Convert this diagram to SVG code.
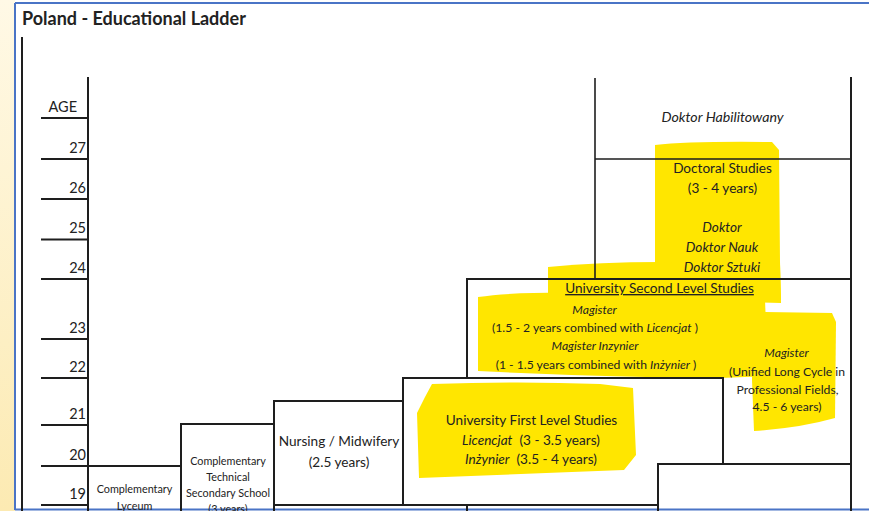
<svg xmlns="http://www.w3.org/2000/svg" width="869" height="511" viewBox="0 0 869 511">
<defs>
<linearGradient id="cream" x1="0" y1="0" x2="0" y2="1">
<stop offset="0" stop-color="#FFF9E6"/>
<stop offset="1" stop-color="#FCEAB2"/>
</linearGradient>
</defs>
<style>
.ln{stroke:#1e1e1e;stroke-width:2;fill:none;stroke-linecap:square}
.thin{stroke:#1e1e1e;stroke-width:1.6;fill:none}
.hl{fill:#FFE600}
text{font-family:Lato,"Liberation Sans",sans-serif;fill:#222}
.age{font-size:14.5px;text-anchor:end}
.c{text-anchor:middle}
.i{font-style:italic}
.s{font-size:13.6px}
.xs{font-size:12.2px}
.xxs{font-size:10.8px}
</style>
<rect x="0" y="0" width="869" height="511" fill="#fff"/>
<rect x="0" y="0" width="15" height="511" fill="url(#cream)"/>
<g id="frame" stroke="#4A74C6" stroke-width="2" fill="none">
<line x1="15" y1="3" x2="869" y2="3"/>
<line x1="15" y1="3" x2="15" y2="510"/>
<line x1="15" y1="509.5" x2="869" y2="509.5"/>
</g>
<text x="22" y="25" font-weight="bold" font-size="18">Poland - Educational Ladder</text>

<g id="highlights">
<path class="hl" d="M655,145 Q690,141 772,142 L779,150 L780,262 L781,300 L700,300 L655,290 Z"/>
<path class="hl" d="M548,267 Q600,262 660,262 L780,264 L781,303 L548,296 Z"/>
<path class="hl" d="M478,297 Q520,291 600,293 L765,300 L768,376 L720,378 Q600,377 478,371 Z"/>
<path class="hl" d="M752,315 L765,312 L832,313 L836,322 L835,418 Q800,428 754,431 L752,380 Z"/>
<path class="hl" d="M432,384 Q520,381 600,384 L633,388 L636,455 L624,470 Q520,474 419,478 L417,413 L425,397 Z"/>
</g>

<g id="age-axis">
<line class="ln" x1="22" y1="38" x2="22" y2="511"/>
<line class="ln" x1="88" y1="78" x2="88" y2="511"/>
<g class="ln">
<line x1="42" y1="118" x2="88" y2="118"/>
<line x1="42" y1="159" x2="88" y2="159"/>
<line x1="42" y1="199" x2="88" y2="199"/>
<line x1="42" y1="239.5" x2="88" y2="239.5"/>
<line x1="42" y1="279" x2="88" y2="279"/>
<line x1="42" y1="339" x2="88" y2="339"/>
<line x1="42" y1="378" x2="88" y2="378"/>
<line x1="42" y1="425" x2="88" y2="425"/>
<line x1="42" y1="466" x2="88" y2="466"/>
<line x1="42" y1="505" x2="88" y2="505"/>
</g>
<text class="age" x="77" y="112">AGE</text>
<text class="age" x="86" y="153">27</text>
<text class="age" x="86" y="193">26</text>
<text class="age" x="86" y="233">25</text>
<text class="age" x="86" y="273">24</text>
<text class="age" x="86" y="333">23</text>
<text class="age" x="86" y="372">22</text>
<text class="age" x="86" y="419">21</text>
<text class="age" x="86" y="460">20</text>
<text class="age" x="86" y="499">19</text>
</g>

<g id="complementary-lyceum">
<path class="ln" d="M88,466 H181"/>
<text class="c xxs" x="134.5" y="493">Complementary</text>
<text class="c xxs" x="134.5" y="510">Lyceum</text>
</g>

<g id="complementary-technical">
<path class="ln" d="M181,511 V424 H274"/>
<text class="c xxs" x="228" y="465">Complementary</text>
<text class="c xxs" x="228" y="481">Technical</text>
<text class="c xxs" x="228" y="497">Secondary School</text>
<text class="c xxs" x="228" y="513">(3 years)</text>
</g>

<g id="nursing">
<path class="ln" d="M274,511 V401 H403 M274,505 H403"/>
<text class="c s" x="339" y="446">Nursing / Midwifery</text>
<text class="c s" x="339" y="467">(2.5 years)</text>
</g>

<g id="first-level">
<path class="ln" d="M403,505 V378 H723 V464 M403,505 H658 M467,505 V511"/>
<text class="c s" x="531.5" y="425">University First Level Studies</text>
<text class="c s" x="531" y="445"><tspan class="i">Licencjat</tspan>&#160; (3 - 3.5 years)</text>
<text class="c s" x="531" y="464"><tspan class="i">Inżynier</tspan>&#160; (3.5 - 4 years)</text>
</g>

<g id="second-level">
<path class="ln" d="M467,378 V279 H851"/>
<text class="c s" x="659.5" y="293" text-decoration="underline">University Second Level Studies</text>
<text class="c xs i" x="594.5" y="314">Magister</text>
<text class="c xs" x="595" y="332">(1.5 - 2 years combined with <tspan class="i">Licencjat</tspan> )</text>
<text class="c xs i" x="595" y="350">Magister Inzynier</text>
<text class="c xs" x="596" y="369">(1 - 1.5 years combined with <tspan class="i">Inżynier</tspan> )</text>
</g>

<g id="long-cycle">
<path class="ln" d="M723,464 H851"/>
<text class="c xs i" x="786.5" y="357">Magister</text>
<text class="c xs" x="787" y="376">(Unified Long Cycle in</text>
<text class="c xs" x="787.5" y="394">Professional Fields,</text>
<text class="c xs" x="787" y="411">4.5 - 6 years)</text>
</g>

<g id="bottom-right-box">
<path class="ln" d="M658,511 V464 H851"/>
</g>

<g id="doctoral">
<path class="thin" d="M595,279 V78 M595,159 H851"/>
<path class="ln" d="M851,78 V511"/>
<text class="c s" x="722.5" y="173">Doctoral Studies</text>
<text class="c s" x="722.5" y="193">(3 - 4 years)</text>
<text class="c s i" x="722" y="232">Doktor</text>
<text class="c s i" x="722" y="252">Doktor Nauk</text>
<text class="c s i" x="722" y="272">Doktor Sztuki</text>
</g>

<g id="habilitation">
<text class="c i" font-size="14.2" x="722.5" y="122">Doktor Habilitowany</text>
</g>
</svg>
